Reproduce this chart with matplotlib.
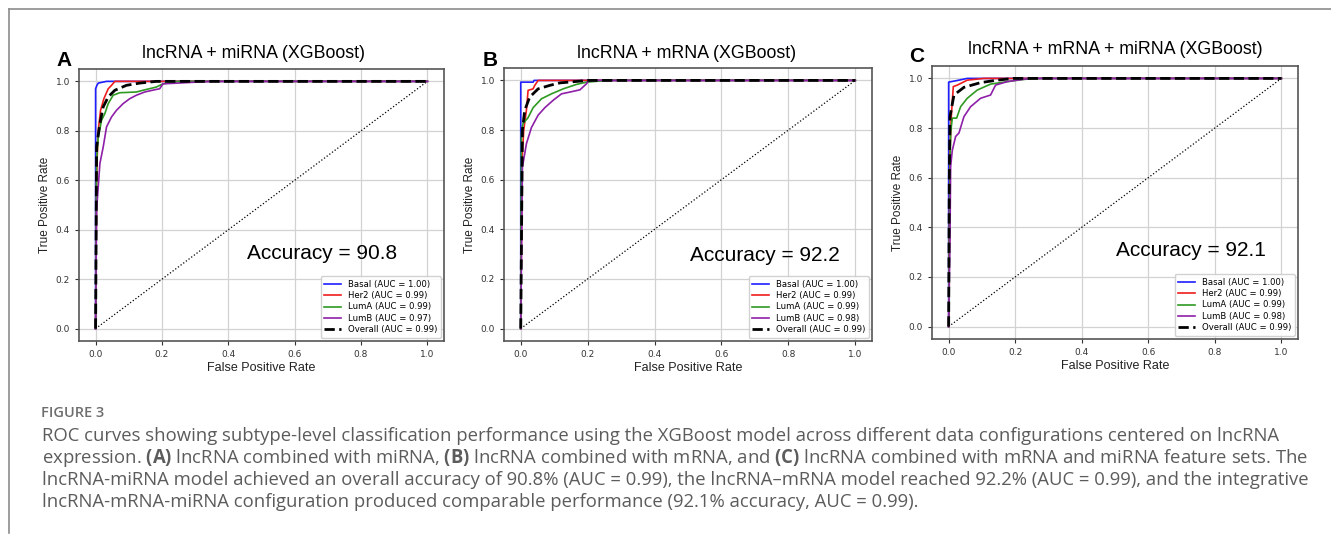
import matplotlib.pyplot as plt
from matplotlib.lines import Line2D

plt.rcParams['font.family'] = ['DejaVu Sans']
plt.rcParams['mathtext.fontset'] = 'custom'
plt.rcParams['mathtext.rm'] = 'Open Sans'
plt.rcParams['mathtext.bf'] = 'Open Sans:bold'

# 数据
titles = ['lncRNA + miRNA (XGBoost)', 'lncRNA + mRNA (XGBoost)', 'lncRNA + mRNA + miRNA (XGBoost)']
letters = ['A', 'B', 'C']
accuracy = [90.8, 92.2, 92.1]
classes = ['Basal', 'Her2', 'LumA', 'LumB', 'Overall']
auc_a = [1.00, 0.99, 0.99, 0.97, 0.99]
auc_b = [1.00, 0.99, 0.99, 0.98, 0.99]
auc_c = [1.00, 0.99, 0.99, 0.98, 0.99]

# panel A: lncRNA + miRNA
basal_fpr_a = [0, 0.0, 0.004, 0.008, 0.033, 1]
basal_tpr_a = [0, 0.97, 0.984, 0.993, 1.0, 1]
her2_fpr_a = [0, 0.003, 0.005, 0.008, 0.015, 0.025, 0.038, 0.048, 0.058, 1]
her2_tpr_a = [0, 0.6, 0.7, 0.8, 0.883, 0.93, 0.97, 0.984, 1.0, 1]
luma_fpr_a = [0, 0.003, 0.008, 0.018, 0.028, 0.038, 0.053, 0.073, 0.123, 0.143, 0.183, 0.203, 0.25, 1]
luma_tpr_a = [0, 0.68, 0.775, 0.843, 0.87, 0.91, 0.944, 0.954, 0.957, 0.964, 0.977, 0.99, 1.0, 1]
lumb_fpr_a = [0, 0.003, 0.008, 0.013, 0.023, 0.033, 0.048, 0.063, 0.083, 0.103, 0.123, 0.148, 0.178, 0.193, 0.203, 0.35, 1]
lumb_tpr_a = [0, 0.48, 0.574, 0.668, 0.735, 0.816, 0.856, 0.883, 0.91, 0.93, 0.944, 0.957, 0.966, 0.97, 0.99, 1.0, 1]
overall_fpr_a = [0, 0.003, 0.013, 0.023, 0.038, 0.058, 0.093, 0.133, 0.183, 1]
overall_tpr_a = [0, 0.735, 0.83, 0.897, 0.937, 0.964, 0.984, 0.993, 1.0, 1]

# panel B: lncRNA + mRNA
basal_fpr_b = [0, 0.0, 0.0, 0.037, 0.04, 1]
basal_tpr_b = [0, 0.8, 0.993, 0.993, 1.0, 1]
her2_fpr_b = [0, 0.004, 0.009, 0.017, 0.022, 0.037, 0.042, 0.052, 1]
her2_tpr_b = [0, 0.68, 0.8, 0.88, 0.96, 0.966, 0.98, 1.0, 1]
luma_fpr_b = [0, 0.002, 0.007, 0.022, 0.037, 0.062, 0.092, 0.127, 0.167, 0.197, 0.26, 1]
luma_tpr_b = [0, 0.79, 0.826, 0.85, 0.89, 0.926, 0.946, 0.966, 0.984, 0.993, 1.0, 1]
lumb_fpr_b = [0, 0.005, 0.017, 0.032, 0.052, 0.072, 0.097, 0.122, 0.147, 0.177, 0.197, 0.202, 0.21, 1]
lumb_tpr_b = [0, 0.65, 0.745, 0.81, 0.86, 0.89, 0.92, 0.946, 0.953, 0.962, 0.987, 0.997, 1.0, 1]
overall_fpr_b = [0, 0.005, 0.012, 0.027, 0.052, 0.087, 0.117, 0.177, 0.2, 1]
overall_tpr_b = [0, 0.8, 0.88, 0.933, 0.966, 0.98, 0.99, 0.997, 1.0, 1]

# panel C: lncRNA + mRNA + miRNA
basal_fpr_c = [0, 0.0, 0.0, 0.031, 0.056, 1]
basal_tpr_c = [0, 0.9, 0.985, 0.993, 1.0, 1]
her2_fpr_c = [0, 0.004, 0.008, 0.014, 0.026, 0.056, 0.106, 1]
her2_tpr_c = [0, 0.7, 0.846, 0.967, 0.973, 0.993, 1.0, 1]
luma_fpr_c = [0, 0.004, 0.006, 0.011, 0.024, 0.036, 0.056, 0.086, 0.126, 0.176, 0.226, 0.276, 1]
luma_tpr_c = [0, 0.6, 0.78, 0.84, 0.84, 0.886, 0.92, 0.953, 0.977, 0.987, 0.996, 1.0, 1]
lumb_fpr_c = [0, 0.004, 0.006, 0.011, 0.021, 0.031, 0.046, 0.066, 0.096, 0.126, 0.141, 0.176, 0.206, 0.246, 1]
lumb_tpr_c = [0, 0.35, 0.645, 0.71, 0.766, 0.78, 0.846, 0.886, 0.92, 0.933, 0.973, 0.987, 0.993, 1.0, 1]
overall_fpr_c = [0, 0.002, 0.004, 0.016, 0.046, 0.096, 0.146, 0.196, 1]
overall_tpr_c = [0, 0.6, 0.846, 0.933, 0.964, 0.983, 0.993, 1.0, 1]

curves = [
    [(basal_fpr_a, basal_tpr_a), (her2_fpr_a, her2_tpr_a), (luma_fpr_a, luma_tpr_a),
     (lumb_fpr_a, lumb_tpr_a), (overall_fpr_a, overall_tpr_a)],
    [(basal_fpr_b, basal_tpr_b), (her2_fpr_b, her2_tpr_b), (luma_fpr_b, luma_tpr_b),
     (lumb_fpr_b, lumb_tpr_b), (overall_fpr_b, overall_tpr_b)],
    [(basal_fpr_c, basal_tpr_c), (her2_fpr_c, her2_tpr_c), (luma_fpr_c, luma_tpr_c),
     (lumb_fpr_c, lumb_tpr_c), (overall_fpr_c, overall_tpr_c)],
]
aucs = [auc_a, auc_b, auc_c]
colors = ['#1f1fff', '#ee1c1c', '#2e9a22', '#8e1fa8', 'black']

caption_head = 'FIGURE 3'
caption_lines = [
    'ROC curves showing subtype-level classification performance using the XGBoost model across different data configurations centered on lncRNA',
    r'expression. $\mathbf{(A)}$ lncRNA combined with miRNA, $\mathbf{(B)}$ lncRNA combined with mRNA, and $\mathbf{(C)}$ lncRNA combined with mRNA and miRNA feature sets. The',
    'lncRNA-miRNA model achieved an overall accuracy of 90.8% (AUC = 0.99), the lncRNA\u2013mRNA model reached 92.2% (AUC = 0.99), and the integrative',
    'lncRNA-mRNA-miRNA configuration produced comparable performance (92.1% accuracy, AUC = 0.99).',
]

W, H = 1331, 535
fig = plt.figure(figsize=(W / 100, H / 100), dpi=100)


def fx(x):
    return x / W


def fy(y):
    return 1 - y / H


# 面板位置（像素: left, top, right, bottom）
boxes = [(79, 69, 444, 341), (504, 68, 872, 341), (932, 66, 1298, 339)]
title_xy = [(254, 53), (687, 53), (1115, 50)]
letter_xy = [(64, 60), (490, 60), (917, 57)]
acc_xy = [(0.667, 0.32), (0.71, 0.315), (0.707, 0.324)]

for i in range(3):
    l, t, r, b = boxes[i]
    ax = fig.add_axes([fx(l), fy(b), (r - l) / W, (b - t) / H])
    ax.plot([0, 1], [0, 1], 'k:', lw=0.9)
    for j in range(5):
        fpr, tpr = curves[i][j]
        ax.plot(fpr, tpr, color=colors[j], lw=2.0 if j == 4 else 1.2,
                ls='--' if j == 4 else '-',
                label=f'{classes[j]} (AUC = {aucs[i][j]:.2f})')
    ax.set_xlim(-0.05, 1.05)
    ax.set_ylim(-0.05, 1.05)
    ax.grid(True, color='#d2d2d2', lw=0.9)
    ax.set_axisbelow(True)
    for s in ax.spines.values():
        s.set_color('#555555')
        s.set_linewidth(1.2)
    ax.tick_params(labelsize=6.5, colors='#333333', length=3, width=0.8)
    ax.set_xlabel('False Positive Rate', fontsize=9, family='Liberation Sans', labelpad=2, color='#222222')
    ax.set_ylabel('True Positive Rate', fontsize=8.5, family='Liberation Sans', labelpad=3, color='#222222')
    ax.legend(loc='lower right', fontsize=6.1, labelspacing=0.28, borderaxespad=0.4,
              framealpha=0.9, edgecolor='#cccccc', fancybox=True)
    ax.text(acc_xy[i][0], acc_xy[i][1], f'Accuracy = {accuracy[i]}', transform=ax.transAxes,
            ha='center', va='center', fontsize=15, family='Liberation Sans', color='black')
    fig.text(fx(title_xy[i][0]), fy(title_xy[i][1]), titles[i], ha='center', va='center',
             fontsize=12.8, family='Liberation Sans', color='black')
    fig.text(fx(letter_xy[i][0]), fy(letter_xy[i][1]), letters[i], ha='center', va='center',
             fontsize=15, fontweight='bold', family='Liberation Sans', color='black')

# 外框线
fig.add_artist(Line2D([fx(9), 1], [fy(9), fy(9)], color='#8c8c8c', lw=1.2))
fig.add_artist(Line2D([fx(9), fx(9)], [fy(9), fy(533)], color='#8c8c8c', lw=1.2))

# 图注
fig.text(fx(41), fy(413), caption_head, ha='left', va='center', fontsize=10.5,
         fontweight='semibold', family='Open Sans', color='#6e6e6e')
line_y = [436, 458, 480, 502]
for k, line in enumerate(caption_lines):
    fig.text(fx(42), fy(line_y[k]), line, ha='left', va='center', fontsize=13.35,
             fontweight='normal', family='Open Sans', color='#5c5c5c')

plt.savefig('out.png', dpi=100)
